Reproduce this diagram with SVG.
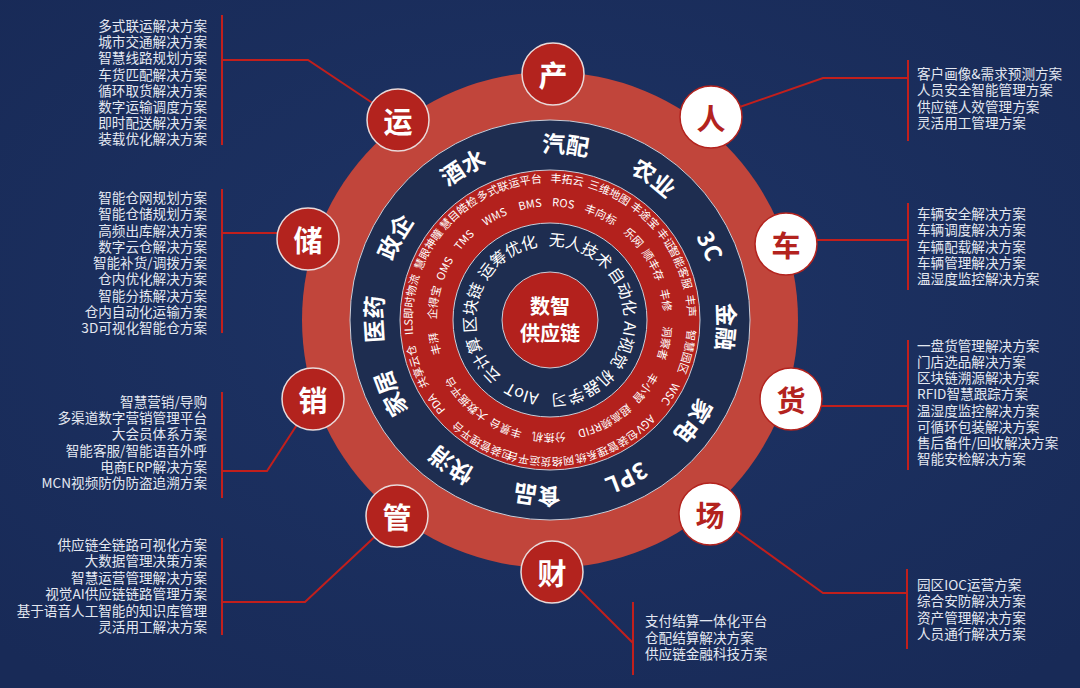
<svg xmlns="http://www.w3.org/2000/svg" width="1080" height="688" viewBox="0 0 1080 688">
<defs>
<radialGradient id="bg" cx="50%" cy="45%" r="70%">
<stop offset="0" stop-color="#1e3466"/>
<stop offset="1" stop-color="#182a57"/>
</radialGradient>
<path id="pInd" d="M550 152.4A167.6 167.6 0 1 1 550 487.6A167.6 167.6 0 1 1 550 152.4A167.6 167.6 0 1 1 550 487.6A167.6 167.6 0 1 1 550 152.4"/>
<path id="pOut" d="M550 182.4A137.6 137.6 0 1 1 550 457.6A137.6 137.6 0 1 1 550 182.4A137.6 137.6 0 1 1 550 457.6A137.6 137.6 0 1 1 550 182.4"/>
<path id="pIn" d="M550 206.4A113.6 113.6 0 1 1 550 433.6A113.6 113.6 0 1 1 550 206.4A113.6 113.6 0 1 1 550 433.6A113.6 113.6 0 1 1 550 206.4"/>
<path id="pTech" d="M550 245.7A74.3 74.3 0 1 1 550 394.3A74.3 74.3 0 1 1 550 245.7A74.3 74.3 0 1 1 550 394.3A74.3 74.3 0 1 1 550 245.7"/>
</defs>
<style>
text{font-family:"Noto Sans CJK SC","Noto Sans",sans-serif}
.lt{font-size:13.6px;fill:#e4e8f1;dominant-baseline:central}
.le{text-anchor:end}
.ring{text-anchor:middle;fill:#ffffff}
.ind{font-size:23px;font-weight:bold}
.prod{font-size:11px}
.tech{font-size:16px}
.conn line,.conn polyline{stroke:#c21f1c;stroke-width:2;fill:none}
.nr circle{fill:#b3231e;stroke:#e9dada;stroke-width:1.5}
.nw circle{fill:#ffffff;stroke:#b3231e;stroke-width:1.5}
.nt{font-size:29px;font-weight:bold;text-anchor:middle;dominant-baseline:central}
.nr .nt{fill:#ffffff}
.nw .nt{fill:#b3231e}
.edge{stroke:#c9cdd8;stroke-width:1}
</style>
<rect width="1080" height="688" fill="url(#bg)"/>

<g id="rings">
<circle cx="550" cy="320" r="248" fill="#c1453b"/>
<circle cx="550" cy="320" r="200" fill="#1e2d50" class="edge"/>
<circle cx="550" cy="320" r="150" fill="#b3211d" class="edge"/>
<circle cx="550" cy="320" r="97" fill="#1e2d50" class="edge"/>
<circle cx="550" cy="320" r="48" fill="#b3211d" class="edge"/>
</g>

<g id="industries" class="ring ind">
<text><textPath href="#pInd" startOffset="1067.7">汽配</textPath></text>
<text><textPath href="#pInd" startOffset="1158.4">农业</textPath></text>
<text><textPath href="#pInd" startOffset="1243.2">3C</textPath></text>
<text><textPath href="#pInd" startOffset="1322.2">金融</textPath></text>
<text><textPath href="#pInd" startOffset="1418.7">家电</textPath></text>
<text><textPath href="#pInd" startOffset="1503.6">3PL</textPath></text>
<text><textPath href="#pInd" startOffset="1591.3">食品</textPath></text>
<text><textPath href="#pInd" startOffset="1679.1">快消</textPath></text>
<text><textPath href="#pInd" startOffset="1769.7">家居</textPath></text>
<text><textPath href="#pInd" startOffset="1842.9">医药</textPath></text>
<text><textPath href="#pInd" startOffset="1924.8">政企</textPath></text>
<text><textPath href="#pInd" startOffset="2018.4">酒水</textPath></text>
</g>

<g id="products" class="ring prod">
<text><textPath href="#pOut" startOffset="1687.6">多式联运平台</textPath></text>
<text><textPath href="#pOut" startOffset="881.1">丰拓云</textPath></text>
<text><textPath href="#pOut" startOffset="924.1">三维地图</textPath></text>
<text><textPath href="#pOut" startOffset="965.7">丰途宝</textPath></text>
<text><textPath href="#pOut" startOffset="996.4">丰证</textPath></text>
<text><textPath href="#pOut" startOffset="1027.9">智能客服</textPath></text>
<text><textPath href="#pOut" startOffset="1066.3">丰声</textPath></text>
<text><textPath href="#pOut" startOffset="1111.9">智慧园区</textPath></text>
<text><textPath href="#pOut" startOffset="1156.1">WSC</textPath></text>
<text><textPath href="#pOut" startOffset="1194.3">AGV</textPath></text>
<text><textPath href="#pOut" startOffset="1238.5">包装管理系统</textPath></text>
<text><textPath href="#pOut" startOffset="1305.7">网络货运平台</textPath></text>
<text><textPath href="#pOut" startOffset="1366.5">包装管理平台</textPath></text>
<text><textPath href="#pOut" startOffset="1424.9">PDA</textPath></text>
<text><textPath href="#pOut" startOffset="1465.9">共享云仓</textPath></text>
<text><textPath href="#pOut" startOffset="1527.7">ILS即时物流</textPath></text>
<text><textPath href="#pOut" startOffset="1584.8">慧眼神瞳</textPath></text>
<text><textPath href="#pOut" startOffset="1631.2">慧目皓检</textPath></text>
<text><textPath href="#pIn" startOffset="1370.2">WMS</textPath></text>
<text><textPath href="#pIn" startOffset="1406.5">BMS</textPath></text>
<text><textPath href="#pIn" startOffset="726.1">ROS</textPath></text>
<text><textPath href="#pIn" startOffset="763.9">丰向标</textPath></text>
<text><textPath href="#pIn" startOffset="803.0">乐网</textPath></text>
<text><textPath href="#pIn" startOffset="835.7">顺丰存</textPath></text>
<text><textPath href="#pIn" startOffset="872.0">丰修</textPath></text>
<text><textPath href="#pIn" startOffset="914.0">洞察者</textPath></text>
<text><textPath href="#pIn" startOffset="961.6">丰小智</textPath></text>
<text><textPath href="#pIn" startOffset="1013.6">超高频RFID</textPath></text>
<text><textPath href="#pIn" startOffset="1070.7">分拣机</textPath></text>
<text><textPath href="#pIn" startOffset="1113.7">丰景台</textPath></text>
<text><textPath href="#pIn" startOffset="1162.3">大数据平台</textPath></text>
<text><textPath href="#pIn" startOffset="1224.7">丰湃</textPath></text>
<text><textPath href="#pIn" startOffset="1265.0">企得宝</textPath></text>
<text><textPath href="#pIn" startOffset="1299.3">OMS</textPath></text>
<text><textPath href="#pIn" startOffset="1333.0">TMS</textPath></text>
</g>

<g id="tech" class="ring tech">
<text><textPath href="#pTech" startOffset="496.7">无人技术</textPath></text>
<text><textPath href="#pTech" startOffset="555.0">自动化</textPath></text>
<text><textPath href="#pTech" startOffset="606.9">AI视觉</textPath></text>
<text><textPath href="#pTech" startOffset="666.5">机器学习</textPath></text>
<text><textPath href="#pTech" startOffset="726.2">AIoT</textPath></text>
<text><textPath href="#pTech" startOffset="775.5">云计算</textPath></text>
<text><textPath href="#pTech" startOffset="827.3">区块链</textPath></text>
<text><textPath href="#pTech" startOffset="888.3">运筹优化</textPath></text>
</g>

<g id="center">
<text x="550" y="305" style="font-size:20px;font-weight:bold;fill:#fff;text-anchor:middle;dominant-baseline:central">数智</text>
<text x="550" y="332" style="font-size:20px;font-weight:bold;fill:#fff;text-anchor:middle;dominant-baseline:central">供应链</text>
</g>

<g id="connectors" class="conn">
<line x1="222" y1="15" x2="222" y2="145"/>
<polyline points="222,60 308,60 398,120"/>
<line x1="222" y1="189" x2="222" y2="333"/>
<line x1="222" y1="233" x2="290" y2="233"/>
<line x1="222" y1="392" x2="222" y2="498"/>
<polyline points="222,471 267,471 313,400"/>
<line x1="222" y1="538" x2="222" y2="635"/>
<polyline points="222,602 305,602 397,516"/>
<line x1="908" y1="60" x2="908" y2="141"/>
<polyline points="908,78 823,78 711,117"/>
<line x1="908" y1="203" x2="908" y2="290"/>
<line x1="800" y1="240" x2="908" y2="240"/>
<line x1="908" y1="340" x2="908" y2="470"/>
<line x1="800" y1="406" x2="908" y2="406"/>
<line x1="907" y1="569" x2="907" y2="649"/>
<polyline points="907,593 823,593 712,513"/>
<line x1="633" y1="602" x2="633" y2="675"/>
<line x1="552" y1="562" x2="633" y2="643"/>
</g>

<g id="node-chan" class="nr"><circle cx="553" cy="74" r="31"/><text class="nt" x="553" y="74">产</text></g>
<g id="node-ren" class="nw"><circle cx="711" cy="117" r="31"/><text class="nt" x="711" y="117">人</text></g>
<g id="node-che" class="nw"><circle cx="786" cy="244" r="31"/><text class="nt" x="786" y="244">车</text></g>
<g id="node-huo" class="nw"><circle cx="791" cy="399" r="31"/><text class="nt" x="791" y="399">货</text></g>
<g id="node-chang" class="nw"><circle cx="710" cy="514" r="31"/><text class="nt" x="710" y="514">场</text></g>
<g id="node-cai" class="nr"><circle cx="552" cy="572" r="31"/><text class="nt" x="552" y="572">财</text></g>
<g id="node-guan" class="nr"><circle cx="397" cy="516" r="31"/><text class="nt" x="397" y="516">管</text></g>
<g id="node-xiao" class="nr"><circle cx="313" cy="399" r="31"/><text class="nt" x="313" y="399">销</text></g>
<g id="node-chu" class="nr"><circle cx="308" cy="239" r="31"/><text class="nt" x="308" y="239">储</text></g>
<g id="node-yun" class="nr"><circle cx="398" cy="120" r="31"/><text class="nt" x="398" y="120">运</text></g>

<g id="list-yun" class="lt le">
<text x="207" y="25">多式联运解决方案</text>
<text x="207" y="41.2">城市交通解决方案</text>
<text x="207" y="57.4">智慧线路规划方案</text>
<text x="207" y="73.6">车货匹配解决方案</text>
<text x="207" y="89.8">循环取货解决方案</text>
<text x="207" y="106">数字运输调度方案</text>
<text x="207" y="122.2">即时配送解决方案</text>
<text x="207" y="138.4">装载优化解决方案</text>
</g>
<g id="list-chu" class="lt le">
<text x="207" y="197">智能仓网规划方案</text>
<text x="207" y="213.2">智能仓储规划方案</text>
<text x="207" y="229.5">高频出库解决方案</text>
<text x="207" y="245.7">数字云仓解决方案</text>
<text x="207" y="262">智能补货/调拨方案</text>
<text x="207" y="278.2">仓内优化解决方案</text>
<text x="207" y="294.5">智能分拣解决方案</text>
<text x="207" y="310.7">仓内自动化运输方案</text>
<text x="207" y="327">3D可视化智能仓方案</text>
</g>
<g id="list-xiao" class="lt le">
<text x="207" y="401">智慧营销/导购</text>
<text x="207" y="417.2">多渠道数字营销管理平台</text>
<text x="207" y="433.4">大会员体系方案</text>
<text x="207" y="449.6">智能客服/智能语音外呼</text>
<text x="207" y="465.8">电商ERP解决方案</text>
<text x="207" y="482">MCN视频防伪防盗追溯方案</text>
</g>
<g id="list-guan" class="lt le">
<text x="207" y="544">供应链全链路可视化方案</text>
<text x="207" y="560.4">大数据管理决策方案</text>
<text x="207" y="576.8">智慧运营管理解决方案</text>
<text x="207" y="593.2">视觉AI供应链链路管理方案</text>
<text x="207" y="609.6">基于语音人工智能的知识库管理</text>
<text x="207" y="626">灵活用工解决方案</text>
</g>
<g id="list-ren" class="lt">
<text x="917" y="73">客户画像&amp;需求预测方案</text>
<text x="917" y="89.3">人员安全智能管理方案</text>
<text x="917" y="105.6">供应链人效管理方案</text>
<text x="917" y="122">灵活用工管理方案</text>
</g>
<g id="list-che" class="lt">
<text x="917" y="213">车辆安全解决方案</text>
<text x="917" y="229.2">车辆调度解决方案</text>
<text x="917" y="245.5">车辆配载解决方案</text>
<text x="917" y="261.7">车辆管理解决方案</text>
<text x="917" y="278">温湿度监控解决方案</text>
</g>
<g id="list-huo" class="lt">
<text x="917" y="345">一盘货管理解决方案</text>
<text x="917" y="361.1">门店选品解决方案</text>
<text x="917" y="377.3">区块链溯源解决方案</text>
<text x="917" y="393.4">RFID智慧跟踪方案</text>
<text x="917" y="409.6">温湿度监控解决方案</text>
<text x="917" y="425.7">可循环包装解决方案</text>
<text x="917" y="441.9">售后备件/回收解决方案</text>
<text x="917" y="458">智能安检解决方案</text>
</g>
<g id="list-chang" class="lt">
<text x="917" y="584">园区IOC运营方案</text>
<text x="917" y="600.3">综合安防解决方案</text>
<text x="917" y="616.6">资产管理解决方案</text>
<text x="917" y="633">人员通行解决方案</text>
</g>
<g id="list-cai" class="lt">
<text x="645" y="620">支付结算一体化平台</text>
<text x="645" y="636.5">仓配结算解决方案</text>
<text x="645" y="653">供应链金融科技方案</text>
</g>
</svg>
